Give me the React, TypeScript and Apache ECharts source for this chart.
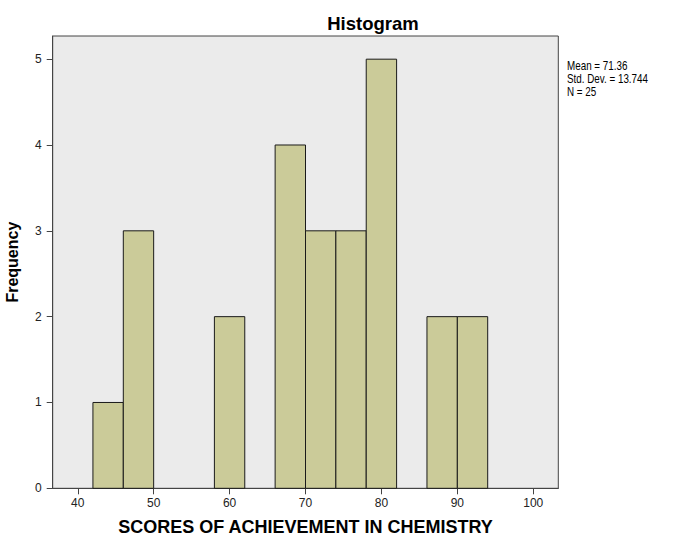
import React, { useEffect, useRef } from "react";
import * as echarts from "echarts";

const binStarts = [42, 46, 58, 66, 70, 74, 78, 86, 90];
const binWidth = 4;
const frequencies = [1, 3, 2, 4, 3, 3, 5, 2, 2];
const xTicks = [40, 50, 60, 70, 80, 90, 100];
const yTicks = [0, 1, 2, 3, 4, 5];
const statsLines = ["Mean = 71.36", "Std. Dev. = 13.744", "N = 25"];

const FONT = "'Liberation Sans', Arial, sans-serif";

export default function App() {
  const ref = useRef<HTMLDivElement>(null);
  useEffect(() => {
    document.body.style.margin = "0";
    const chart = echarts.init(ref.current!, null, { renderer: "svg" });
    const data = binStarts.map((s, i) => [s, s + binWidth, frequencies[i]]);
    chart.setOption({
      animation: false,
      backgroundColor: "#ffffff",
      title: {
        text: "Histogram",
        left: 368,
        top: 9,
        textAlign: "center",
        textStyle: { fontFamily: FONT, fontSize: 18.5, fontWeight: "bold", color: "#000" },
      },
      grid: {
        left: 52.7,
        right: 116.7,
        top: 36,
        bottom: 48.7,
        containLabel: false,
        outerBoundsMode: "none",
        show: true,
        backgroundColor: "#EBEBEB",
        borderColor: "#444",
        borderWidth: 1,
      },
      xAxis: {
        type: "value",
        min: 36.7,
        max: 103.3,
        name: "SCORES OF ACHIEVEMENT IN CHEMISTRY",
        nameLocation: "middle",
        nameGap: 30,
        nameTextStyle: { fontFamily: FONT, fontSize: 18, fontWeight: "bold", color: "#000" },
        splitLine: { show: false },
        axisLine: { show: true, lineStyle: { color: "#444", width: 1 } },
        axisTick: { show: true, length: 6, customValues: xTicks, lineStyle: { color: "#444" } },
        axisLabel: {
          customValues: xTicks,
          margin: 9,
          fontFamily: FONT,
          fontSize: 12,
          color: "#222",
        },
      },
      yAxis: {
        type: "value",
        min: 0,
        max: 5.27,
        name: "Frequency",
        nameLocation: "middle",
        nameGap: 32,
        nameTextStyle: { fontFamily: FONT, fontSize: 16, fontWeight: "bold", color: "#000" },
        splitLine: { show: false },
        axisLine: { show: true, lineStyle: { color: "#444", width: 1 } },
        axisTick: { show: true, length: 6, customValues: yTicks, lineStyle: { color: "#444" } },
        axisLabel: { customValues: yTicks, margin: 11, fontFamily: FONT, fontSize: 12, color: "#222" },
      },
      graphic: statsLines.map((t, i) => ({
        type: "text",
        x: 567,
        y: 60 + i * 13,
        scaleX: 0.82,
        style: { text: t, fontFamily: FONT, fontSize: 12, fill: "#000", textVerticalAlign: "top" },
      })),
      series: [
        {
          type: "custom",
          data,
          encode: { x: [0, 1], y: 2 },
          renderItem: (params: any, api: any) => {
            const p0 = api.coord([api.value(0), 0]);
            const p1 = api.coord([api.value(1), api.value(2)]);
            return {
              type: "rect",
              shape: { x: p0[0], y: p1[1], width: p1[0] - p0[0], height: p0[1] - p1[1] },
              style: { fill: "#CBCB99", stroke: "#1a1a1a", lineWidth: 1 },
            };
          },
        },
      ],
    });
    return () => chart.dispose();
  }, []);
  return <div ref={ref} style={{ width: 675, height: 537 }} />;
}
